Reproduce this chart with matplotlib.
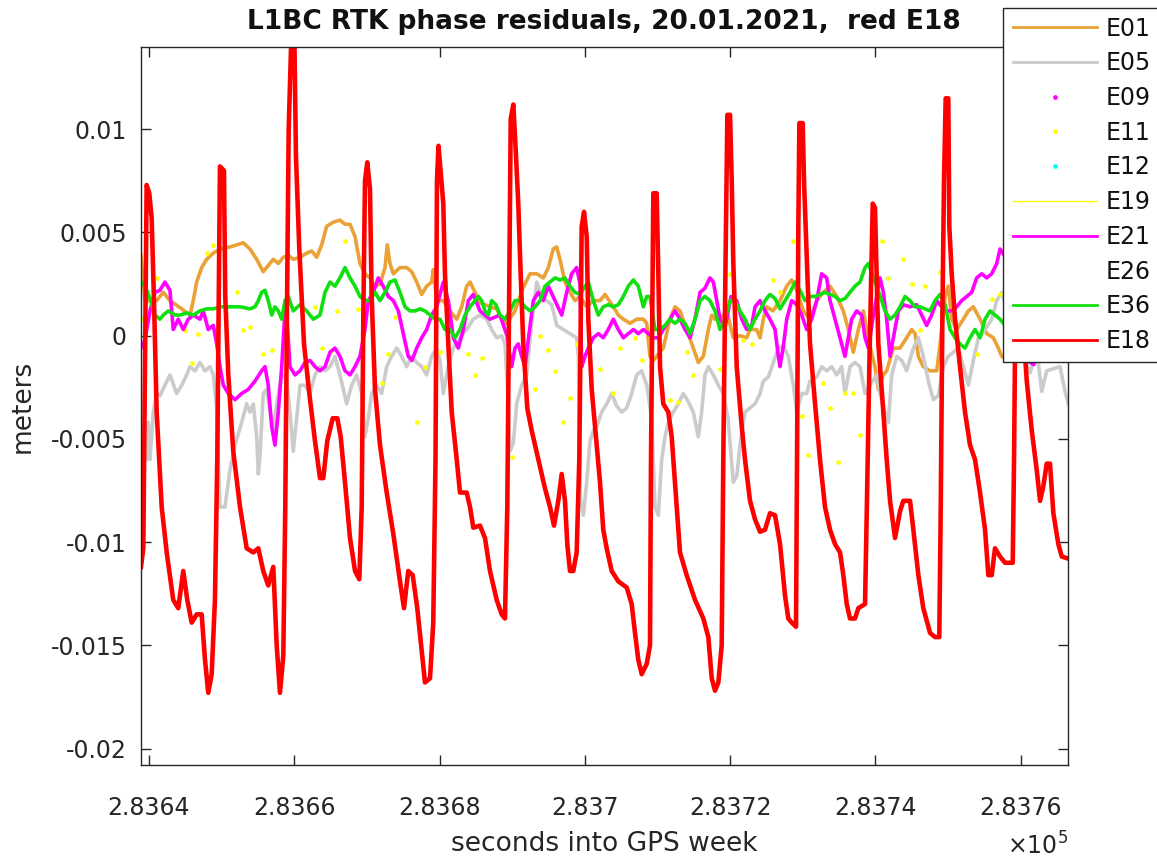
import matplotlib
matplotlib.use("Agg")
import matplotlib.pyplot as plt
from matplotlib.lines import Line2D
from matplotlib.patches import Rectangle

# ---------------- data (time in s relative to T0, value in metres) ----------------
T0 = 283640.0

e18_t = [-1.1, -0.78, -0.32, 0.04, 0.37, 0.69, 1.06, 1.75, 2.44, 3.34, 4.03, 4.72, 5.27, 5.88, 6.57,
         7.25, 7.71, 8.16, 8.63, 9.08, 9.40, 9.77, 10.32, 10.50, 10.92, 11.60, 12.53, 13.45, 14.36,
         15.05, 15.73, 16.42, 17.11, 17.58, 18.03, 18.49, 18.76, 19.04, 19.23, 19.64, 20.03, 20.23,
         20.69, 21.34, 22.07, 22.85, 23.54, 23.99, 24.54, 25.29, 25.92, 26.39, 26.98, 27.67, 28.36,
         28.95, 29.28, 29.50, 29.73, 30.05, 30.42, 30.65, 31.11, 31.80, 32.72, 33.63, 34.55, 35.10,
         35.69, 36.30, 36.93, 37.54, 37.99, 38.68, 39.13, 39.44, 39.64, 39.85, 40.51, 40.74, 41.20,
         41.67, 42.36, 42.81, 43.73, 44.19, 44.64, 45.56, 46.25, 46.94, 47.86, 48.55, 49.00, 49.32,
         49.60, 49.79, 50.15, 50.52, 50.83, 51.16, 51.52, 52.07, 52.68, 53.59, 54.51, 55.20, 55.75,
         56.34, 56.81, 57.26, 57.58, 57.95, 58.40, 58.87, 59.23, 59.56, 59.88, 60.25, 60.47, 60.94,
         61.63, 62.08, 62.53, 63.00, 63.69, 64.60, 65.76, 66.44, 66.90, 67.35, 67.82, 68.51, 68.96,
         69.10, 69.42, 69.88, 70.11, 70.34, 70.79, 71.48, 71.95, 72.64, 73.09, 74.01, 75.16, 76.30,
         76.99, 77.46, 77.91, 78.37, 78.83, 79.05, 79.38, 79.61, 79.98, 80.21, 80.43, 80.90, 81.59,
         82.04, 82.73, 83.42, 84.11, 84.79, 85.48, 86.17, 86.86, 87.55, 88.00, 88.47, 89.06, 89.20,
         89.38, 89.52, 89.98, 90.16, 90.62, 90.99, 91.68, 92.36, 93.05, 93.74, 94.43, 95.12, 95.57,
         96.04, 96.49, 97.18, 97.64, 98.56, 98.79, 99.15, 99.62, 99.93, 100.39, 101.08, 101.54,
         102.00, 102.69, 103.38, 103.83, 104.75, 105.21, 105.90, 106.58, 107.51, 108.19, 108.78,
         108.98, 109.20, 109.43, 109.66, 110.02, 110.16, 110.49, 110.95, 111.63, 112.32, 113.01,
         113.70, 114.39, 115.08, 115.53, 116.00, 116.45, 117.14, 117.83, 118.89, 119.07, 119.21,
         119.62, 120.03, 120.35, 120.82, 121.51, 122.19, 122.65, 123.10, 123.57, 124.02, 124.48,
         125.17, 125.64, 126.54]
e18_v = [-0.0112, -0.0103, 0.0073, 0.0069, 0.0057, 0.0017, -0.0037, -0.0083, -0.0105, -0.0128,
         -0.0132, -0.0114, -0.0128, -0.0139, -0.0135, -0.0135, -0.0157, -0.0173, -0.0164, -0.0128,
         -0.0060, 0.0082, 0.0080, 0.0019, -0.0019, -0.0056, -0.0083, -0.0103, -0.0105, -0.0103,
         -0.0114, -0.0121, -0.0112, -0.0150, -0.0173, -0.0155, -0.0083, 0.0030, 0.0100, 0.0150,
         0.0140, 0.0087, 0.0042, -0.0004, -0.0028, -0.0051, -0.0069, -0.0069, -0.0051, -0.0040,
         -0.0040, -0.0049, -0.0071, -0.0098, -0.0114, -0.0118, -0.0083, 0.0008, 0.0075, 0.0084,
         0.0071, 0.0019, -0.0026, -0.0053, -0.0076, -0.0096, -0.0119, -0.0132, -0.0114, -0.0116,
         -0.0132, -0.0153, -0.0168, -0.0166, -0.0139, -0.0060, 0.0075, 0.0092, 0.0064, 0.0030,
         -0.0004, -0.0037, -0.0060, -0.0076, -0.0076, -0.0083, -0.0093, -0.0092, -0.0098, -0.0114,
         -0.0128, -0.0135, -0.0137, -0.0083, 0.0030, 0.0105, 0.0112, 0.0087, 0.0064, 0.0030,
         -0.0004, -0.0035, -0.0046, -0.0060, -0.0074, -0.0083, -0.0092, -0.0080, -0.0067, -0.0080,
         -0.0101, -0.0114, -0.0114, -0.0105, -0.0060, 0.0053, 0.0060, 0.0048, 0.0008, -0.0026,
         -0.0053, -0.0071, -0.0094, -0.0103, -0.0114, -0.0119, -0.0122, -0.0130, -0.0144, -0.0157,
         -0.0164, -0.0159, -0.0150, -0.0060, 0.0069, 0.0069, 0.0030, -0.0015, -0.0033, -0.0037,
         -0.0049, -0.0083, -0.0105, -0.0116, -0.0128, -0.0137, -0.0146, -0.0166, -0.0172, -0.0168,
         -0.0150, -0.0060, 0.0042, 0.0107, 0.0107, 0.0075, 0.0035, -0.0015, -0.0044, -0.0060,
         -0.0080, -0.0089, -0.0095, -0.0094, -0.0086, -0.0087, -0.0101, -0.0126, -0.0137, -0.0139,
         -0.0141, -0.0060, 0.0053, 0.0103, 0.0103, 0.0075, 0.0030, -0.0004, -0.0033, -0.0060,
         -0.0083, -0.0094, -0.0101, -0.0105, -0.0116, -0.0130, -0.0137, -0.0137, -0.0132, -0.0130,
         -0.0087, -0.0015, 0.0064, 0.0062, -0.0004, -0.0037, -0.0060, -0.0080, -0.0098, -0.0085,
         -0.0080, -0.0080, -0.0094, -0.0116, -0.0132, -0.0144, -0.0146, -0.0146, -0.0083, 0.0008,
         0.0075, 0.0115, 0.0115, 0.0053, 0.0030, 0.0008, -0.0015, -0.0037, -0.0053, -0.0060,
         -0.0076, -0.0094, -0.0116, -0.0116, -0.0103, -0.0107, -0.0110, -0.0110, -0.0060, -0.0004,
         0.0100, 0.0090, 0.0003, -0.0022, -0.0046, -0.0065, -0.0080, -0.0073, -0.0062, -0.0062,
         -0.0086, -0.0101, -0.0107, -0.0108]

e01_t = [-1.1, -0.55, 1.06, 1.97, 2.89, 4.50, 5.64, 6.10, 6.57, 7.25, 7.94, 8.85, 9.77, 11.15, 12.07,
         12.98, 13.90, 14.83, 15.73, 16.42, 17.11, 17.80, 18.49, 19.18, 19.86, 20.79, 21.71, 22.40,
         23.08, 23.77, 24.46, 25.37, 26.29, 26.98, 27.67, 28.36, 29.04, 29.73, 30.42, 31.11, 31.80,
         32.49, 32.80, 33.17, 33.63, 34.55, 35.47, 36.16, 36.85, 37.54, 38.22, 38.91, 39.14, 39.60,
         40.51, 41.43, 42.36, 43.04, 43.73, 44.19, 44.88, 45.56, 46.94, 47.86, 48.55, 49.24, 50.38,
         51.34, 52.45, 53.37, 54.28, 54.97, 55.65, 56.12, 56.57, 57.26, 57.95, 58.64, 59.33, 60.25,
         61.16, 62.08, 62.77, 63.91, 64.60, 65.29, 66.21, 67.13, 68.05, 68.51, 68.96, 69.42, 70.34,
         70.79, 71.71, 72.40, 73.09, 74.01, 74.92, 75.61, 76.30, 76.99, 77.46, 77.91, 78.60, 79.52,
         80.43, 81.35, 82.27, 82.73, 83.64, 84.11, 84.56, 85.02, 85.89, 86.86, 87.78, 88.47, 89.16,
         90.07, 90.99, 91.91, 92.82, 93.74, 94.66, 95.57, 96.26, 96.95, 97.64, 98.33, 99.11, 99.93,
         100.39, 101.08, 101.54, 102.46, 103.38, 104.29, 104.98, 105.44, 105.90, 106.58, 107.51,
         108.43, 108.89, 109.58, 110.02, 110.49, 111.18, 112.09, 112.78, 113.47, 114.39, 115.31,
         116.22, 116.91, 117.37, 118.24]
e01_v = [0.0039, 0.0017, 0.0017, 0.0021, 0.0017, 0.0013, 0.0010, 0.0017, 0.0026, 0.0033, 0.0037,
         0.0040, 0.0042, 0.0043, 0.0044, 0.0045, 0.0042, 0.0037, 0.0031, 0.0034, 0.0037, 0.0035,
         0.0038, 0.0039, 0.0037, 0.0038, 0.0040, 0.0041, 0.0038, 0.0044, 0.0053, 0.0055, 0.0056,
         0.0054, 0.0054, 0.0048, 0.0035, 0.0030, 0.0028, 0.0024, 0.0025, 0.0033, 0.0044, 0.0035,
         0.0030, 0.0033, 0.0033, 0.0031, 0.0026, 0.0020, 0.0024, 0.0026, 0.0032, 0.0017, 0.0017,
         0.0012, 0.0008, 0.0014, 0.0024, 0.0026, 0.0021, 0.0016, 0.0014, 0.0013, 0.0008, 0.0006,
         0.0012, 0.0022, 0.0030, 0.0030, 0.0028, 0.0033, 0.0042, 0.0043, 0.0037, 0.0026, 0.0021,
         0.0017, 0.0019, 0.0014, 0.0017, 0.0017, 0.0020, 0.0014, 0.0010, 0.0008, 0.0006, 0.0008,
         0.0008, 0.0006, -0.0010, -0.0012, -0.0008, -0.0006, 0.0008, 0.0014, 0.0012, 0.0003,
         -0.0006, -0.0013, -0.0010, 0.0003, 0.0010, 0.0008, 0.0008, 0.0012, -0.0001, 0.0000,
         -0.0001, 0.0003, 0.0003, -0.0001, 0.0008, 0.0014, 0.0012, 0.0017, 0.0024, 0.0027, 0.0022,
         0.0012, 0.0008, 0.0017, 0.0021, 0.0024, 0.0019, 0.0012, 0.0003, -0.0008, 0.0003, 0.0012,
         -0.0003, -0.0015, -0.0026, -0.0019, -0.0017, -0.0006, -0.0006, -0.0001, 0.0003, 0.0001,
         -0.0010, -0.0015, -0.0017, -0.0017, -0.0004, 0.0019, 0.0024, 0.0008, 0.0003, 0.0008,
         0.0012, 0.0014, 0.0008, 0.0001, -0.0001, -0.0006, -0.0010, -0.0012]

e05_t = [-1.1, -1.00, -0.69, -0.32, -0.10, 0.14, 0.59, 1.06, 1.51, 2.20, 2.89, 3.81, 4.50, 5.19,
         5.64, 6.33, 7.02, 7.71, 8.40, 8.85, 9.32, 9.77, 10.46, 11.15, 11.84, 12.76, 13.45, 13.90,
         14.36, 14.83, 15.05, 15.28, 15.73, 16.19, 16.66, 17.11, 17.58, 18.27, 18.95, 19.41, 19.86,
         20.33, 20.79, 21.47, 22.16, 22.85, 23.54, 24.23, 24.92, 25.60, 26.29, 27.21, 27.90, 28.59,
         29.28, 29.73, 30.19, 30.65, 31.34, 32.03, 32.72, 33.41, 34.10, 34.78, 35.47, 36.16, 36.85,
         37.54, 38.22, 38.91, 39.60, 40.06, 40.51, 41.20, 41.89, 42.81, 43.73, 44.64, 45.56, 46.48,
         47.17, 47.86, 48.55, 49.00, 49.41, 49.69, 50.15, 50.61, 51.30, 51.99, 52.45, 52.90, 53.37,
         54.05, 54.74, 55.43, 56.12, 57.03, 57.95, 58.87, 59.10, 59.40, 59.79, 60.25, 60.70, 61.16,
         61.63, 62.31, 63.00, 63.69, 64.37, 65.06, 65.75, 66.44, 67.13, 67.82, 68.51, 69.19, 69.65,
         70.11, 70.57, 71.03, 71.48, 72.17, 72.86, 73.55, 74.24, 74.92, 75.61, 76.07, 76.53, 76.99,
         77.68, 78.37, 79.05, 79.70, 80.43, 80.90, 81.35, 82.04, 82.73, 83.42, 84.11, 84.56, 85.25,
         85.94, 86.63, 87.32, 88.00, 88.69, 89.16, 89.85, 90.53, 90.99, 91.91, 92.59, 93.28, 93.97,
         94.66, 95.34, 95.80, 96.49, 97.18, 97.87, 98.56, 99.25, 100.16, 100.62, 101.31, 101.77,
         102.23, 102.92, 103.61, 104.29, 105.21, 105.90, 106.58, 107.27, 107.96, 108.64, 109.34,
         110.02, 110.71, 111.40, 112.09, 112.78, 113.47, 114.16, 115.08, 116.00, 116.69, 117.38,
         118.79, 120.35, 121.27, 122.19, 122.88, 123.57, 124.48, 125.40, 126.09, 126.54]
e05_v = [-0.0055, -0.0056, -0.0050, -0.0060, -0.0042, -0.0060, -0.0037, -0.0028, -0.0029, -0.0024,
         -0.0019, -0.0028, -0.0024, -0.0019, -0.0015, -0.0017, -0.0013, -0.0017, -0.0015, -0.0019,
         -0.0035, -0.0083, -0.0083, -0.0065, -0.0053, -0.0042, -0.0033, -0.0037, -0.0033, -0.0049,
         -0.0067, -0.0058, -0.0028, -0.0026, -0.0037, -0.0045, -0.0033, -0.0019, -0.0021, -0.0037,
         -0.0056, -0.0040, -0.0024, -0.0024, -0.0028, -0.0019, -0.0015, -0.0017, -0.0015, -0.0010,
         -0.0019, -0.0033, -0.0024, -0.0019, -0.0028, -0.0049, -0.0040, -0.0028, -0.0024, -0.0028,
         -0.0015, -0.0010, -0.0006, -0.0010, -0.0015, -0.0010, -0.0013, -0.0015, -0.0019, -0.0010,
         -0.0006, -0.0012, -0.0028, -0.0015, -0.0006, -0.0001, 0.0003, 0.0008, 0.0010, 0.0008,
         0.0003, -0.0001, 0.0000, -0.0004, -0.0030, -0.0056, -0.0052, -0.0033, -0.0024, -0.0019,
         -0.0001, 0.0012, 0.0026, 0.0019, 0.0017, 0.0015, 0.0005, 0.0003, 0.0001, -0.0001, -0.0010,
         -0.0080, -0.0087, -0.0071, -0.0051, -0.0046, -0.0044, -0.0037, -0.0033, -0.0028, -0.0034,
         -0.0037, -0.0035, -0.0028, -0.0019, -0.0017, -0.0024, -0.0040, -0.0083, -0.0087, -0.0060,
         -0.0049, -0.0042, -0.0037, -0.0033, -0.0028, -0.0032, -0.0037, -0.0049, -0.0037, -0.0019,
         -0.0015, -0.0019, -0.0024, -0.0028, -0.0040, -0.0071, -0.0068, -0.0053, -0.0037, -0.0035,
         -0.0033, -0.0028, -0.0022, -0.0020, -0.0013, -0.0006, -0.0005, -0.0010, -0.0024, -0.0037,
         -0.0028, -0.0028, -0.0022, -0.0020, -0.0015, -0.0017, -0.0015, -0.0019, -0.0015, -0.0028,
         -0.0015, -0.0013, -0.0015, -0.0028, -0.0024, -0.0019, -0.0028, -0.0037, -0.0042, -0.0019,
         -0.0010, -0.0012, -0.0017, -0.0006, -0.0001, -0.0010, -0.0022, -0.0031, -0.0029, -0.0015,
         -0.0010, -0.0008, -0.0006, -0.0015, -0.0024, -0.0012, -0.0001, 0.0003, 0.0008, 0.0017,
         0.0021, 0.0005, -0.0010, -0.0018, -0.0007, -0.0027, -0.0017, -0.0016, -0.0015, -0.0027,
         -0.0033]

e11_t = [-0.9, 1.06, 4.96, 5.88, 6.79, 7.94, 8.85, 12.07, 12.98, 13.90, 15.73, 16.89, 22.85, 23.77,
         24.92, 25.84, 26.98, 28.81, 32.03, 32.94, 33.86, 36.85, 37.99, 40.06, 43.96, 44.88, 45.80,
         49.92, 51.99, 53.14, 53.83, 54.97, 55.89, 57.03, 57.95, 58.87, 62.08, 63.91, 64.83, 66.90,
         67.82, 71.71, 72.86, 74.01, 74.92, 78.60, 79.98, 81.81, 82.96, 85.94, 86.86, 88.69, 89.85,
         90.76, 92.82, 93.74, 94.88, 95.80, 96.95, 97.87, 100.85, 101.77, 103.83, 104.98, 106.13,
         106.82, 108.89, 113.93, 116.00, 117.14]
e11_v = [0.0008, 0.0028, 0.0003, -0.0013, 0.0001, 0.0040, 0.0044, 0.0021, 0.0003, 0.0004, -0.0009,
         -0.0007, 0.0014, -0.0006, -0.0008, 0.0012, 0.0046, 0.0013, -0.0023, -0.0009, 0.0009,
         -0.0042, -0.0015, -0.0008, -0.0009, -0.0019, -0.0011, -0.0059, -0.0037, -0.0026, 0.0000,
         -0.0007, -0.0017, -0.0042, -0.0030, -0.0004, -0.0016, -0.0028, -0.0006, -0.0001, -0.0012,
         -0.0031, -0.0032, -0.0008, -0.0019, -0.0016, 0.0030, -0.0002, -0.0004, 0.0027, 0.0021,
         0.0046, -0.0039, -0.0058, -0.0023, -0.0035, -0.0061, -0.0028, -0.0028, -0.0048, 0.0046,
         0.0028, 0.0037, 0.0025, 0.0003, 0.0024, 0.0031, -0.0009, 0.0018, 0.0020]

e21_t = [-1.1, -0.55, 0.14, 0.83, 1.51, 2.20, 2.89, 3.34, 4.03, 4.72, 5.41, 6.10, 7.02, 7.47, 8.16,
         8.85, 9.32, 9.77, 10.23, 10.92, 11.84, 12.76, 13.67, 14.59, 15.51, 15.97, 16.42, 16.89,
         17.34, 17.80, 18.27, 18.72, 19.00, 19.41, 20.10, 20.79, 21.47, 22.16, 22.85, 23.54, 24.23,
         24.92, 25.60, 26.29, 26.98, 27.67, 28.36, 29.04, 29.73, 30.19, 30.88, 31.56, 32.25, 32.94,
         33.63, 34.32, 35.00, 35.69, 36.20, 36.85, 37.54, 38.22, 38.91, 39.60, 40.51, 41.20, 41.89,
         42.58, 43.27, 43.96, 44.64, 45.56, 46.94, 48.31, 49.28, 49.92, 50.38, 50.83, 51.30, 51.76,
         52.21, 52.90, 53.59, 54.28, 54.97, 55.89, 56.81, 57.49, 58.18, 58.87, 59.33, 59.56, 60.02,
         60.47, 61.16, 61.85, 62.53, 63.22, 63.91, 64.60, 65.29, 65.98, 66.67, 67.35, 68.05, 68.73,
         69.42, 70.11, 70.79, 71.71, 72.40, 73.09, 73.78, 74.47, 75.16, 75.85, 76.53, 77.21, 77.68,
         78.15, 78.60, 79.29, 80.12, 80.90, 81.59, 82.27, 82.96, 83.42, 84.11, 84.79, 85.48, 86.17,
         86.63, 86.86, 87.32, 87.78, 88.47, 89.16, 89.85, 90.53, 91.22, 91.91, 92.59, 93.28, 93.74,
         94.43, 95.12, 95.80, 96.26, 96.72, 97.41, 98.10, 98.56, 99.02, 99.71, 100.62, 101.08,
         101.54, 102.00, 102.46, 103.15, 103.83, 104.75, 105.67, 106.36, 107.04, 107.73, 108.43,
         109.11, 109.79, 110.49, 111.18, 111.86, 112.55, 113.24, 113.93, 114.62, 115.31, 116.00,
         116.69, 117.14, 118.52, 119.90, 120.86, 121.78, 122.37]
e21_v = [-0.0006, -0.0002, 0.0012, 0.0021, 0.0022, 0.0026, 0.0022, 0.0003, 0.0008, 0.0003, 0.0008,
         0.0010, 0.0008, 0.0012, 0.0003, 0.0005, -0.0004, -0.0015, -0.0024, -0.0028, -0.0031,
         -0.0028, -0.0026, -0.0022, -0.0017, -0.0015, -0.0024, -0.0044, -0.0053, -0.0037, -0.0015,
         0.0012, 0.0008, -0.0015, -0.0019, -0.0017, -0.0013, -0.0012, -0.0015, -0.0017, -0.0015,
         -0.0008, -0.0006, -0.0010, -0.0017, -0.0019, -0.0015, -0.0010, 0.0003, 0.0017, 0.0021,
         0.0028, 0.0024, 0.0019, 0.0017, 0.0012, 0.0001, -0.0010, -0.0012, -0.0006, -0.0001, 0.0003,
         0.0010, 0.0014, 0.0026, 0.0017, -0.0001, -0.0006, 0.0003, 0.0017, 0.0020, 0.0012, 0.0008,
         0.0010, 0.0000, -0.0015, -0.0006, -0.0004, -0.0010, -0.0015, -0.0002, 0.0017, 0.0021,
         0.0017, 0.0024, 0.0017, 0.0010, 0.0021, 0.0030, 0.0033, 0.0025, -0.0015, -0.0010, -0.0006,
         -0.0001, 0.0001, -0.0001, 0.0003, 0.0008, 0.0003, -0.0001, 0.0001, 0.0003, 0.0001, 0.0003,
         0.0001, -0.0001, -0.0001, 0.0003, 0.0008, 0.0012, 0.0008, 0.0003, -0.0001, 0.0008, 0.0021,
         0.0023, 0.0028, 0.0026, 0.0017, 0.0008, 0.0004, 0.0019, 0.0017, 0.0008, 0.0003, 0.0005,
         0.0014, 0.0017, 0.0012, 0.0008, 0.0003, -0.0010, -0.0015, -0.0005, 0.0008, 0.0017, 0.0015,
         0.0010, 0.0003, 0.0008, 0.0017, 0.0030, 0.0028, 0.0017, 0.0008, -0.0001, -0.0010, -0.0001,
         0.0008, 0.0012, 0.0010, -0.0001, -0.0006, 0.0010, 0.0028, 0.0021, 0.0008, -0.0010, -0.0001,
         0.0012, 0.0015, 0.0014, 0.0015, 0.0010, 0.0005, 0.0010, 0.0017, 0.0014, 0.0012, 0.0012,
         0.0014, 0.0017, 0.0019, 0.0021, 0.0028, 0.0030, 0.0028, 0.0030, 0.0035, 0.0042, 0.0035,
         0.0000, -0.0012, -0.0014, -0.0008]

e36_t = [-1.1, -0.55, 0.14, 0.83, 1.51, 1.97, 2.66, 3.58, 4.27, 5.19, 6.10, 7.02, 7.94, 8.85, 9.77,
         11.15, 12.53, 13.90, 14.59, 15.05, 15.51, 15.97, 16.42, 16.89, 17.34, 17.80, 18.27, 18.72,
         19.18, 19.86, 20.79, 21.71, 22.62, 23.54, 24.23, 24.92, 25.60, 26.29, 26.98, 27.67, 28.36,
         29.04, 29.73, 30.42, 31.11, 31.80, 32.49, 33.17, 33.86, 34.55, 35.24, 35.93, 36.62, 37.30,
         37.99, 38.68, 39.37, 40.06, 40.74, 41.43, 42.12, 42.81, 43.50, 44.19, 44.88, 45.33, 45.80,
         46.25, 46.71, 47.17, 47.76, 48.31, 49.00, 49.69, 50.38, 51.07, 51.76, 52.45, 53.14, 53.83,
         54.51, 55.20, 55.89, 56.57, 57.26, 57.95, 58.64, 59.33, 60.02, 60.47, 61.16, 61.85, 62.53,
         63.22, 63.91, 64.60, 65.29, 65.98, 66.67, 67.35, 68.05, 68.51, 68.96, 69.65, 70.34, 71.03,
         71.71, 72.40, 73.09, 73.78, 74.47, 75.16, 75.85, 76.53, 77.21, 77.91, 78.60, 79.29, 79.98,
         80.66, 81.35, 82.04, 82.73, 83.42, 84.11, 84.79, 85.48, 86.17, 86.86, 87.55, 88.24, 88.93,
         89.61, 90.30, 90.99, 91.68, 92.36, 93.05, 93.74, 94.43, 95.12, 95.80, 96.49, 97.18, 97.87,
         98.56, 99.02, 99.52, 100.16, 100.85, 101.31, 102.00, 102.69, 103.38, 104.06, 104.75,
         105.44, 106.13, 106.82, 107.51, 108.19, 108.89, 109.58, 110.26, 110.95, 111.63, 112.32,
         113.01, 113.70, 114.39, 115.08, 115.77, 116.45, 117.14, 117.83]
e36_v = [0.0026, 0.0024, 0.0018, 0.0010, 0.0008, 0.0010, 0.0012, 0.0010, 0.0010, 0.0011, 0.0010,
         0.0012, 0.0013, 0.0013, 0.0014, 0.0014, 0.0014, 0.0013, 0.0014, 0.0017, 0.0021, 0.0022,
         0.0017, 0.0010, 0.0014, 0.0012, 0.0008, 0.0017, 0.0019, 0.0012, 0.0015, 0.0012, 0.0008,
         0.0010, 0.0021, 0.0026, 0.0024, 0.0028, 0.0033, 0.0028, 0.0024, 0.0019, 0.0017, 0.0017,
         0.0021, 0.0017, 0.0021, 0.0026, 0.0027, 0.0021, 0.0014, 0.0012, 0.0012, 0.0013, 0.0012,
         0.0010, 0.0008, 0.0008, 0.0003, 0.0003, -0.0001, 0.0003, 0.0010, 0.0014, 0.0017, 0.0019,
         0.0017, 0.0012, 0.0010, 0.0017, 0.0015, 0.0010, 0.0008, 0.0012, 0.0017, 0.0017, 0.0014,
         0.0012, 0.0014, 0.0017, 0.0024, 0.0026, 0.0028, 0.0027, 0.0028, 0.0024, 0.0021, 0.0020,
         0.0024, 0.0026, 0.0017, 0.0010, 0.0014, 0.0015, 0.0014, 0.0015, 0.0019, 0.0024, 0.0027,
         0.0024, 0.0014, 0.0019, 0.0019, 0.0003, 0.0003, 0.0005, 0.0008, 0.0006, 0.0008, 0.0006,
         0.0001, 0.0008, 0.0017, 0.0019, 0.0017, 0.0012, 0.0003, 0.0008, 0.0017, 0.0017, 0.0012,
         0.0008, 0.0003, 0.0008, 0.0012, 0.0017, 0.0020, 0.0018, 0.0013, 0.0017, 0.0021, 0.0026,
         0.0022, 0.0017, 0.0019, 0.0019, 0.0020, 0.0021, 0.0020, 0.0019, 0.0017, 0.0018, 0.0021,
         0.0024, 0.0026, 0.0033, 0.0035, 0.0030, 0.0024, 0.0017, 0.0012, 0.0008, 0.0010, 0.0014,
         0.0019, 0.0017, 0.0014, 0.0014, 0.0013, 0.0012, 0.0017, 0.0020, 0.0015, 0.0003, -0.0001,
         -0.0004, -0.0006, -0.0001, 0.0003, -0.0001, 0.0008, 0.0012, 0.0010, 0.0008, 0.0005]

# satellites with no samples visible in the picture
e09_t, e09_v = [], []
e12_t, e12_v = [], []
e19_t, e19_v = [], []
e26_t, e26_v = [], []

legend_labels = ["E01", "E05", "E09", "E11", "E12", "E19", "E21", "E26", "E36", "E18"]
xtick_vals = [283640, 283660, 283680, 283700, 283720, 283740, 283760]
xtick_labels = ["2.8364", "2.8366", "2.8368", "2.837", "2.8372", "2.8374", "2.8376"]
ytick_vals = [-0.02, -0.015, -0.01, -0.005, 0.0, 0.005, 0.01]
ytick_labels = ["-0.02", "-0.015", "-0.01", "-0.005", "0", "0.005", "0.01"]

# ---------------- styling ----------------
plt.rcParams["font.family"] = ["DejaVu Sans"]
AX_COL = "#262626"
C_E01 = "#EAA135"
C_E05 = "#CBCBCB"
C_E09 = "#FF00FF"
C_E11 = "#FFFF00"
C_E12 = "#00FFFF"
C_E19 = "#FFFF00"
C_E21 = "#FF00FF"
C_E36 = "#10E010"
C_E18 = "#FF0000"


def tabs(rel):
    return [T0 + r for r in rel]


fig = plt.figure(figsize=(11.57, 8.59), dpi=100)
ax = fig.add_axes([0.1216, 0.1094, 0.8015, 0.8362])

LW = 2.6
DOT = dict(ls="none", marker="o", ms=3.4, mew=0)
ax.plot(tabs(e01_t), e01_v, color=C_E01, lw=LW)
ax.plot(tabs(e05_t), e05_v, color=C_E05, lw=LW)
ax.plot(tabs(e09_t), e09_v, color=C_E09, **DOT)
ax.plot(tabs(e11_t), e11_v, color=C_E11, **DOT)
ax.plot(tabs(e12_t), e12_v, color=C_E12, **DOT)
ax.plot(tabs(e19_t), e19_v, color=C_E19, lw=1.0)
ax.plot(tabs(e21_t), e21_v, color=C_E21, lw=LW)
ax.plot(tabs(e26_t), e26_v, ls="none")
ax.plot(tabs(e36_t), e36_v, color=C_E36, lw=LW)
ax.plot(tabs(e18_t), e18_v, color=C_E18, lw=3.3)

ax.set_xlim(T0 - 1.14, T0 + 126.5)
ax.set_ylim(-0.0208, 0.0140)
ax.set_xticks(xtick_vals)
ax.set_xticklabels(xtick_labels)
ax.set_yticks(ytick_vals)
ax.set_yticklabels(ytick_labels)

ax.tick_params(direction="in", length=7, width=1.0, top=True, right=True,
               labelsize=17, colors=AX_COL)
ax.tick_params(axis="x", pad=22)
ax.tick_params(axis="y", pad=10)
for sp in ax.spines.values():
    sp.set_color(AX_COL)
    sp.set_linewidth(1.0)

ax.set_title("L1BC RTK phase residuals, 20.01.2021,  red E18", fontsize=19,
             fontweight="bold", color="#111111", pad=13)
ax.set_xlabel("seconds into GPS week", fontsize=19, color=AX_COL)
ax.set_ylabel("meters", fontsize=19, color=AX_COL)
ax.xaxis.set_label_coords(0.5, -0.092)
ax.yaxis.set_label_coords(-0.113, 0.5)

fig.text(1068 / 1157, 1 - 846 / 859, r"$\times\mathregular{10^5}$", ha="right", va="center",
         fontsize=17, color=AX_COL)

# legend: box anchored at the top right of the figure, running past its right edge
box = Rectangle((1003 / 1157, 1 - 362 / 859), 0.2, 354 / 859, transform=fig.transFigure,
                facecolor="white", edgecolor=AX_COL, linewidth=1.0, zorder=4, clip_on=False)
fig.add_artist(box)
LLW = 2.0
handles = [
    Line2D([], [], color=C_E01, lw=LLW),
    Line2D([], [], color=C_E05, lw=LLW),
    Line2D([], [], color=C_E09, ls="none", marker="o", ms=3.4, mew=0),
    Line2D([], [], color=C_E11, ls="none", marker="o", ms=3.4, mew=0),
    Line2D([], [], color=C_E12, ls="none", marker="o", ms=3.4, mew=0),
    Line2D([], [], color=C_E19, lw=1.0),
    Line2D([], [], color=C_E21, lw=LLW),
    Line2D([], [], ls="none"),
    Line2D([], [], color=C_E36, lw=LLW),
    Line2D([], [], color=C_E18, lw=LLW),
]
leg = fig.legend(handles, legend_labels, loc="upper left",
                 bbox_to_anchor=(1004.6 / 1157, 1 - 8 / 859), bbox_transform=fig.transFigure,
                 fontsize=17, frameon=False, borderpad=0.36, labelspacing=0.455,
                 handlelength=3.56, handletextpad=0.34, borderaxespad=0.0)
leg.set_zorder(5)
for t in leg.get_texts():
    t.set_color("#111111")

fig.savefig("out.png", dpi=100, facecolor="white")
